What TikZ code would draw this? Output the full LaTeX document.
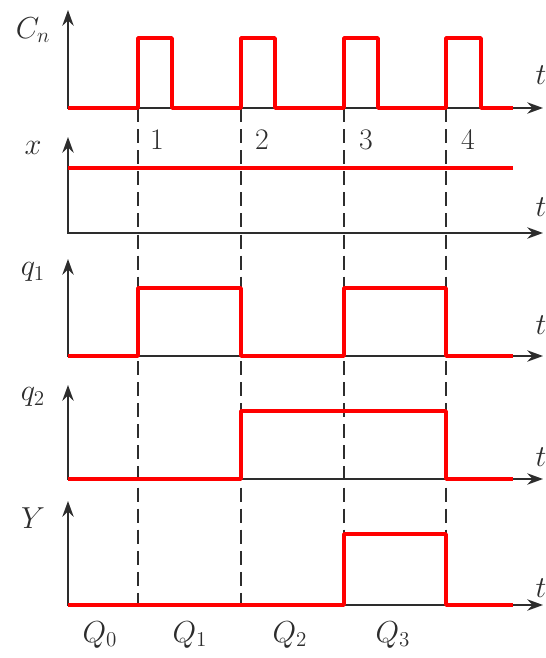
\documentclass[tikz,border=0pt]{standalone}
\usepackage{tikz}
\usepackage{amsmath}
\usetikzlibrary{arrows.meta}
\definecolor{sinalRed} {RGB}{255,  0,  0}
\definecolor{eixoGray} {RGB}{ 45, 45, 45}

\tikzset{
  eixo/.style={eixoGray,line width=1.1pt,
    {Stealth[length=9pt,width=6.5pt,inset=3pt]}-{Stealth[length=9pt,width=6.5pt,inset=3pt]}},
  sinal/.style={sinalRed,line width=2pt,line join=round},
  guia/.style={eixoGray,line width=1.1pt,dash pattern=on 8pt off 4pt},
  rotulo/.style={font=\fontsize{17}{19}\selectfont,eixoGray}
}

\begin{document}
\begin{tikzpicture}[x=0.02cm,y=-0.02cm]
        \useasboundingbox (0,0) rectangle (546,658);
        % Linhas tracejadas nos flancos do clock
        \foreach \x in {138,241,344,446}{
          \draw[guia](\x,108)--(\x,605);
        }
        % Eixos (nome, label, base, topo, y do label, y do t)
        \foreach \nome/\lab/\base/\topo/\ly/\ty in {
          cn/C_n/108/10/30/75,
          x/x/233/137/148/207,
          qa/q_1/356/259/272/325,
          qb/q_2/479/385/397/457,
          y/Y/605/501/518/588}{
          \draw[eixo](68,\topo)--(68,\base)--(543,\base);
          \node[rotulo] (lab-\nome) at (33,\ly){$\lab$};
          \node[rotulo] (t-\nome) at (541,\ty){$t$};
        }
        % Numeros dos pulsos
        \foreach \x/\n in {157/1,262/2,366/3,468/4}{
          \node[rotulo] (num-\n) at (\x,140){\n};
        }
        % Estados
        \foreach \x/\n in {100/0,190/1,290/2,393/3}{
          \node[rotulo] (est-\n) at (\x,635){$Q_{\n}$};
        }

        % Formas de onda
        \draw[sinal](68,108)
          \foreach \a/\b in {138/172,241/275,344/378,446/481}{
            --(\a,108)--(\a,38)--(\b,38)--(\b,108)}
          --(513,108);
        \draw[sinal](68,168)--(513,168);
        \draw[sinal](68,356)
          \foreach \a/\b in {138/241,344/446}{
            --(\a,356)--(\a,288)--(\b,288)--(\b,356)}
          --(513,356);
        \draw[sinal](68,479)--(241,479)--(241,411)--(446,411)--(446,479)--(513,479);
        \draw[sinal](68,605)--(344,605)--(344,534)--(446,534)--(446,605)--(513,605);
      \end{tikzpicture}
\end{document}
